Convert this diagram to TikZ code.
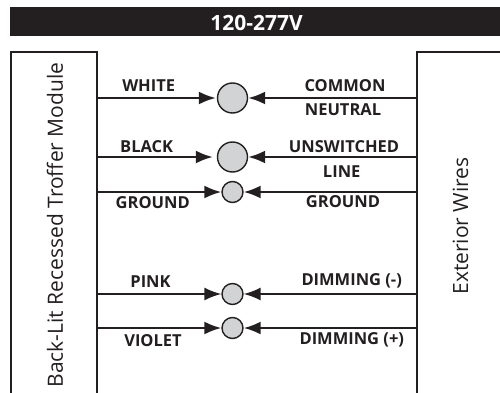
\documentclass[tikz,border=0pt]{standalone}
\usepackage{fontspec}
\setmainfont{Open Sans}
\usepackage{tikz}
\usetikzlibrary{calc,arrows.meta}
\definecolor{inkblack}{HTML}{231F20}
\definecolor{nutgray}{HTML}{D1D3D4}
\tikzset{
  wire/.style={line width=2.2pt, inkblack, -{Latex[length=17pt,width=13pt]}},
  nut/.style={circle, draw=inkblack, line width=1.4pt, fill=nutgray, inner sep=0pt, minimum size=#1},
  lbl/.style={inkblack, font=\fontsize{16.5}{18}\selectfont\bfseries, inner sep=0pt},
  sidelbl/.style={inkblack, font=\fontsize{21}{23}\selectfont, rotate=90, inner sep=0pt}
}
\begin{document}
\begin{tikzpicture}[x=1pt,y=-1pt]
        \pgfmathsetmacro{\xl}{97}
        \pgfmathsetmacro{\xr}{417}
        \pgfmathsetmacro{\xc}{232.5}
        \pgfmathsetmacro{\ya}{98}
        \pgfmathsetmacro{\yb}{157}
        \pgfmathsetmacro{\yc}{192}
        \pgfmathsetmacro{\yd}{294}
        \pgfmathsetmacro{\ye}{328}
        \useasboundingbox (0,0) rectangle (500,393);
        % title bar
        \fill[inkblack] (10,7) rectangle (500,36);
        \node[lbl, white, font=\fontsize{21}{23}\selectfont\bfseries] (title) at (256.5,23) {120-277V};
        % the two side boxes, open at the bottom
        \draw[inkblack, line width=2.2pt] (11,393) -- (11,52) -- (\xl,52) -- (\xl,393);
        \draw[inkblack, line width=2.2pt] (500,52) -- (\xr,52) -- (\xr,393);
        \node[sidelbl] (module) at (55,225) {Back-Lit Recessed Troffer Module};
        \node[sidelbl] (exterior) at (460.5,226) {Exterior Wires};
        % wire nuts
        \node[nut=30pt] (N1) at (\xc,\ya) {};
        \node[nut=30pt] (N2) at (\xc,\yb) {};
        \node[nut=21pt] (N3) at (\xc,\yc) {};
        \node[nut=21pt] (N4) at (\xc,\yd) {};
        \node[nut=21pt] (N5) at (\xc,\ye) {};
        \coordinate (L1) at (\xl,\ya);
        \coordinate (L2) at (\xl,\yb);
        \coordinate (L3) at (\xl,\yc);
        \coordinate (L4) at (\xl,\yd);
        \coordinate (L5) at (\xl,\ye);
        \coordinate (R1) at (\xr,\ya);
        \coordinate (R2) at (\xr,\yb);
        \coordinate (R3) at (\xr,\yc);
        \coordinate (R4) at (\xr,\yd);
        \coordinate (R5) at (\xr,\ye);
        \draw[wire, shorten >=1pt] (L1) -- (N1);
        \draw[wire, shorten >=4pt] (L2) -- (N2);
        \draw[wire] (L3) -- (N3);
        \draw[wire, line width=1.6pt] (L4) -- (N4);
        \draw[wire] (L5) -- (N5);
        \draw[wire] (R1) -- (N1);
        \draw[wire] (R2) -- (N2);
        \draw[wire] (R3) -- (N3);
        \draw[wire, line width=1.6pt] (R4) -- (N4);
        \draw[wire] (R5) -- (N5);
        % wire colours
        \node[lbl] (white) at (148.7,86) {WHITE};
        \node[lbl] (black) at (146.7,146.7) {BLACK};
        \node[lbl] (groundl) at (152.7,202.3) {GROUND};
        \node[lbl] (pink) at (150.5,281.3) {PINK};
        \node[lbl] (violet) at (153,340.3) {VIOLET};
        % functions
        \node[lbl] (common) at (345,85.5) {COMMON};
        \node[lbl] (neutral) at (343,109.5) {NEUTRAL};
        \node[lbl] (unsw) at (344,147) {UNSWITCHED};
        \node[lbl] (line) at (341.7,172) {LINE};
        \node[lbl] (groundr) at (343,201.7) {GROUND};
        \node[lbl] (dimminus) at (351.7,281) {DIMMING (-)};
        \node[lbl] (dimplus) at (351.8,340) {DIMMING (+)};
    \end{tikzpicture}
\end{document}
